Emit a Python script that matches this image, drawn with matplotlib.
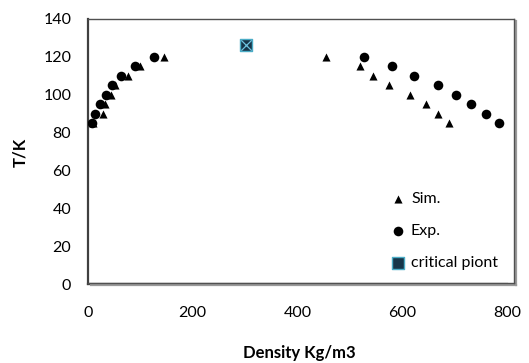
import matplotlib
matplotlib.use("Agg")
import matplotlib.pyplot as plt
from matplotlib.lines import Line2D

plt.rcParams['font.family'] = ['Lato', 'DejaVu Sans']

# Data
sim_density = [10, 28, 33, 43, 52, 77, 100, 145,
               455, 520, 545, 575, 615, 645, 668, 690]
sim_T = [85, 90, 95, 100, 105, 110, 115, 120,
         120, 115, 110, 105, 100, 95, 90, 85]
exp_density = [8, 13, 22, 34, 45, 63, 90, 126,
               527, 580, 622, 668, 702, 731, 759, 785]
exp_T = [85, 90, 95, 100, 105, 110, 115, 120,
         120, 115, 110, 105, 100, 95, 90, 85]
crit_density = [302]
crit_T = [126.2]

xticks = [0, 200, 400, 600, 800]
yticks = [0, 20, 40, 60, 80, 100, 120, 140]

W, H = 529, 363
fig = plt.figure(figsize=(W / 100, H / 100), dpi=100)
ax = fig.add_axes([88 / W, 1 - 284 / H, (507 - 88) / W, (284 - 19) / H])

ax.scatter(sim_density, sim_T, marker='^', s=34, color='black', linewidths=0, label='Sim.', zorder=3)
ax.scatter(exp_density, exp_T, marker='o', s=48, color='black', linewidths=0, label='Exp.', zorder=3)
ax.scatter(crit_density, crit_T, marker='s', s=75, facecolor='#17364a',
           edgecolor='#4bacc6', linewidth=1, label='critical piont', zorder=4)
ax.scatter(crit_density, crit_T, marker='x', s=55, color='#6fc3e0', linewidth=0.9, zorder=5)

ax.set_xlim(0, 800)
ax.set_ylim(0, 140)
ax.set_xticks(xticks)
ax.set_yticks(yticks)
ax.tick_params(length=0, labelsize=11.5, colors='black')
ax.tick_params(axis='x', pad=16)
ax.tick_params(axis='y', pad=12)
for s in ['top', 'right']:
    ax.spines[s].set_visible(False)
for s in ['left', 'bottom']:
    ax.spines[s].set_color('#404040')
    ax.spines[s].set_linewidth(1.6)

fig.text(299 / W, 1 - 353 / H, 'Density Kg/m3', fontsize=12, fontweight='bold',
         ha='center', va='center')
fig.text(20 / W, 1 - 152 / H, 'T/K', fontsize=12, fontweight='bold',
         ha='center', va='center', rotation=90)

# Outer frame with shadow (right and bottom)
def fl(x0, y0, x1, y1, color, lw):
    fig.add_artist(Line2D([x0 / W, x1 / W], [1 - y0 / H, 1 - y1 / H],
                          transform=fig.transFigure, color=color, linewidth=lw))

fl(515.5, 21, 515.5, 285, '#9a9a9a', 1.6)
fl(91, 284.8, 515.5, 284.8, '#9a9a9a', 1.6)
fl(88, 19, 514, 19, '#505050', 1.0)
fl(514, 19, 514, 283, '#505050', 1.0)
fl(88, 283, 514, 283, '#505050', 1.0)

# Legend, calibrated so that rows land at target pixel rows
fs = 11.5
fs_px = fs * 100 / 72
target_rows = [199, 231, 263]
target_text_left = 411
anchor_x, anchor_y = 389.0, 187.0
spacing = 0.95
hp = 0.35
for _ in range(3):
    leg = ax.legend(loc='upper left', bbox_to_anchor=(anchor_x / W, 1 - anchor_y / H),
                    bbox_transform=fig.transFigure, frameon=False,
                    fontsize=fs, handletextpad=hp, labelspacing=spacing,
                    handlelength=0.9, borderaxespad=0, borderpad=0)
    fig.canvas.draw()
    exts = [t.get_window_extent() for t in leg.get_texts()]
    rows = [H - (e.y0 + e.y1) / 2 for e in exts]
    left = exts[0].x0
    cur_sp = (rows[2] - rows[0]) / 2
    tgt_sp = (target_rows[2] - target_rows[0]) / 2
    spacing += (tgt_sp - cur_sp) / fs_px
    anchor_y += target_rows[0] - rows[0] - (tgt_sp - cur_sp) * 0
    anchor_x += target_text_left - left

leg = ax.legend(loc='upper left', bbox_to_anchor=(anchor_x / W, 1 - anchor_y / H),
                bbox_transform=fig.transFigure, frameon=False,
                fontsize=fs, handletextpad=hp, labelspacing=spacing,
                handlelength=0.9, borderaxespad=0, borderpad=0)

fig.savefig('out.png', dpi=100)
